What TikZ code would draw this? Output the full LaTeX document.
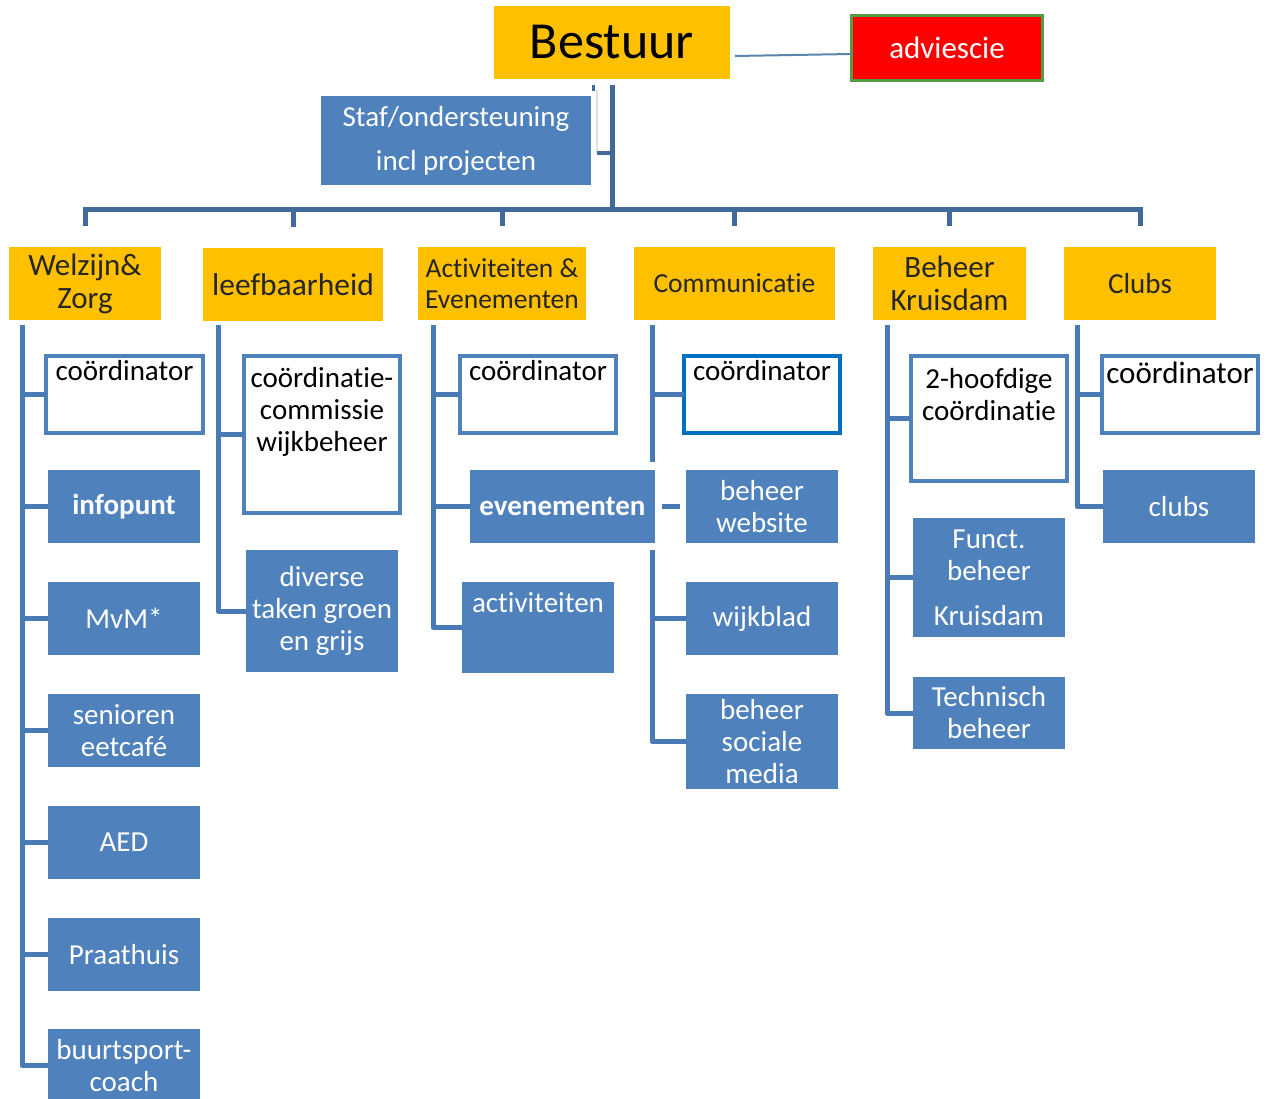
\documentclass[tikz,border=0pt]{standalone}
\usepackage{fontspec}
\setmainfont{Carlito}[Ligatures=NoCommon]
\usetikzlibrary{calc}
\definecolor{ylw}{HTML}{FFC000}
\definecolor{bfill}{HTML}{4F81BD}
\definecolor{barc}{HTML}{41699A}
\definecolor{colc}{HTML}{4A7AB6}
\definecolor{ccb}{HTML}{0070C0}
\definecolor{advg}{HTML}{559B45}
\definecolor{advl}{HTML}{5B86AC}
\newcommand{\fsz}[2]{\fontsize{#1}{#2}\selectfont}
\begin{document}
\begin{tikzpicture}[x=1pt,y=-1pt,
 catbox/.style={fill=ylw, text=black!85, align=center, inner sep=0pt, outer sep=0pt},
 bluebox/.style={fill=bfill, text=white, align=center, inner sep=0pt, outer sep=0pt, minimum width=152pt, font=\fsz{29}{32}},
 whitebox/.style={draw=bfill, line width=4pt, fill=white, inner sep=0pt, outer sep=0pt, minimum width=156pt},
 wtxt/.style={text=black, align=center, inner sep=0pt, font=\fsz{29}{32}},
 bar/.style={draw=barc, line width=5pt},
 colline/.style={draw=colc, line width=5pt, line join=round},
]
\clip (0,0) rectangle (1267,1099);
\fill[white] (0,0) rectangle (1267,1099);

% top level
\node[catbox, minimum width=236pt, minimum height=73pt, text=black, font=\fsz{52}{60}] (bestuur) at (612,42.5) {Bestuur};
\node[draw=advg, line width=3pt, fill=red, text=white, minimum width=191pt, minimum height=65pt, inner sep=0pt, outer sep=0pt, font=\fsz{31}{36}] (advies) at (947,48) {adviescie};
\node[bluebox, minimum width=270pt, minimum height=89pt] (staf) at (456,140.5) {Staf/ondersteuning\\[12pt]incl projecten};

% categories
\node[catbox, minimum width=152pt, minimum height=73pt, font=\fsz{31}{33}] (welzijn) at (85,283.5) {Welzijn\&\\Zorg};
\node[catbox, minimum width=180pt, minimum height=73pt, font=\fsz{31.5}{34}] (leef) at (293,284.5) {leefbaarheid};
\node[catbox, minimum width=168pt, minimum height=73pt, font=\fsz{27.5}{31}] (activ) at (502,283.5) {Activiteiten \&\\Evenementen};
\node[catbox, minimum width=201pt, minimum height=73pt, font=\fsz{27.5}{31}] (comm) at (734.5,283.5) {Communicatie};
\node[catbox, minimum width=153pt, minimum height=73pt, font=\fsz{31}{33}] (beheer) at (949.5,283.5) {Beheer\\Kruisdam};
\node[catbox, minimum width=152pt, minimum height=73pt, font=\fsz{29}{32}] (clubs) at (1140,283.5) {Clubs};

% Welzijn column
\node[whitebox, minimum width=157pt, minimum height=77pt] (wc) at (124.5,394.5) {};
\node[wtxt] (wct) at ([yshift=-14.5pt]wc.north) {coördinator};
\node[bluebox, minimum height=73pt, font=\fsz{29}{32}\bfseries] (wi) at (124,506.5) {infopunt};
\node[bluebox, minimum height=73pt] (wm) at (124,618.5) {MvM*};
\node[bluebox, minimum height=73pt] (ws) at (124,730.5) {senioren\\eetcafé};
\node[bluebox, minimum height=73pt] (wa) at (124,842.5) {AED};
\node[bluebox, minimum height=73pt] (wp) at (124,954.5) {Praathuis};
\node[bluebox, minimum height=73pt] (bz) at (124,1065.5) {buurtsport-\\coach};

% leefbaarheid column
\node[whitebox, minimum height=157pt] (lc) at (322,434.5) {};
\node[wtxt] (lct) at ([yshift=-56pt]lc.north) {coördinatie-\\commissie\\wijkbeheer};
\node[bluebox, minimum height=122pt] (ld) at (322,611) {diverse\\taken groen\\en grijs};

% Activiteiten column
\node[whitebox, minimum height=77pt] (ac) at (538,394.5) {};
\node[wtxt] (act) at ([yshift=-14.5pt]ac.north) {coördinator};
\node[bluebox, minimum width=185pt, minimum height=73pt, font=\fsz{29}{32}\bfseries] (ae) at (562.5,506.5) {evenementen};
\node[bluebox, minimum height=91pt] (aa) at (538,627.5) {};
\node[text=white, inner sep=0pt, font=\fsz{29}{32}] (aat) at ([yshift=-21pt]aa.north) {activiteiten};

% Communicatie column
\node[whitebox, draw=ccb, minimum height=77pt] (cc) at (762,394.5) {};
\node[wtxt] (cct) at ([yshift=-14.5pt]cc.north) {coördinator};
\node[bluebox, minimum height=73pt] (cweb) at (762,506.5) {beheer\\website};
\node[bluebox, minimum height=73pt] (cwb) at (762,618.5) {wijkblad};
\node[bluebox, minimum height=95pt] (cs) at (762,741.5) {beheer\\sociale\\media};

% Beheer column
\node[whitebox, minimum height=125pt] (bc) at (989,418.5) {};
\node[wtxt] (bct) at ([yshift=-38.5pt]bc.north) {2-hoofdige\\coördinatie};
\node[bluebox, minimum height=119pt] (bf) at (989,577.5) {Funct.\\beheer\\[13pt]Kruisdam};
\node[bluebox, minimum height=72pt] (bt) at (989,713) {Technisch\\beheer};

% Clubs column
\node[whitebox, minimum height=77pt] (clc) at (1180,394.5) {};
\node[wtxt, font=\fsz{31}{34}] (clct) at ([yshift=-17pt]clc.north) {coördinator};
\node[bluebox, minimum height=73pt] (clb) at (1179,506.5) {clubs};

% top connectors
\coordinate (hub) at (612,210);
\draw[bar] ([yshift=-6pt]bestuur.south) -- (hub);
\draw[bar, line cap=rect] (welzijn.north |- hub) -- (clubs.north |- hub);
\foreach \c in {welzijn,leef,activ,comm,beheer,clubs}
  \draw[bar] (\c.north |- hub) -- ([yshift=21pt]\c.north);
\draw[advl, line width=2pt] ([xshift=5pt,yshift=-13.5pt]bestuur.east) -- ([yshift=-6pt]advies.west);
\coordinate (sk) at (597,153);
\draw[barc, line width=3pt] (593,85) -- (593,91);
\draw[black!12, line width=1.2pt] (597,90) -- (sk);
\draw[bar, line width=4pt] (sk) -- (sk -| hub);

% column connectors
\coordinate (cw) at (22,325);
\draw[colline] (cw) |- (bz.west);
\foreach \n in {wc,wi,wm,ws,wa,wp} \draw[colline] (cw |- \n.west) -- (\n.west);

\coordinate (cl) at (218,325);
\draw[colline] (cl) |- (ld.west);
\draw[colline] (cl |- lc.west) -- (lc.west);

\coordinate (ca) at (433,325);
\draw[colline] (ca) |- (aa.west);
\foreach \n in {ac,ae} \draw[colline] (ca |- \n.west) -- (\n.west);

\coordinate (cm) at (652,325);
\coordinate (cmb) at (652,462);
\draw[colline] (cm) -- (cmb);
\draw[colline] (cm |- cc.west) -- (cc.west);
\coordinate (cm2) at (652,550);
\draw[colline] (cm2) |- (cs.west);
\draw[colline] (cm2 |- cwb.west) -- (cwb.west);
\draw[colline] ([xshift=7pt]ae.east) -- ([xshift=-6pt]cweb.west);

\coordinate (cb) at (887,325);
\draw[colline] (cb) |- (bt.west);
\foreach \n in {bc,bf} \draw[colline] (cb |- \n.west) -- (\n.west);

\coordinate (ck) at (1077,325);
\draw[colline] (ck) |- (clb.west);
\draw[colline] (ck |- clc.west) -- (clc.west);
\end{tikzpicture}
\end{document}
